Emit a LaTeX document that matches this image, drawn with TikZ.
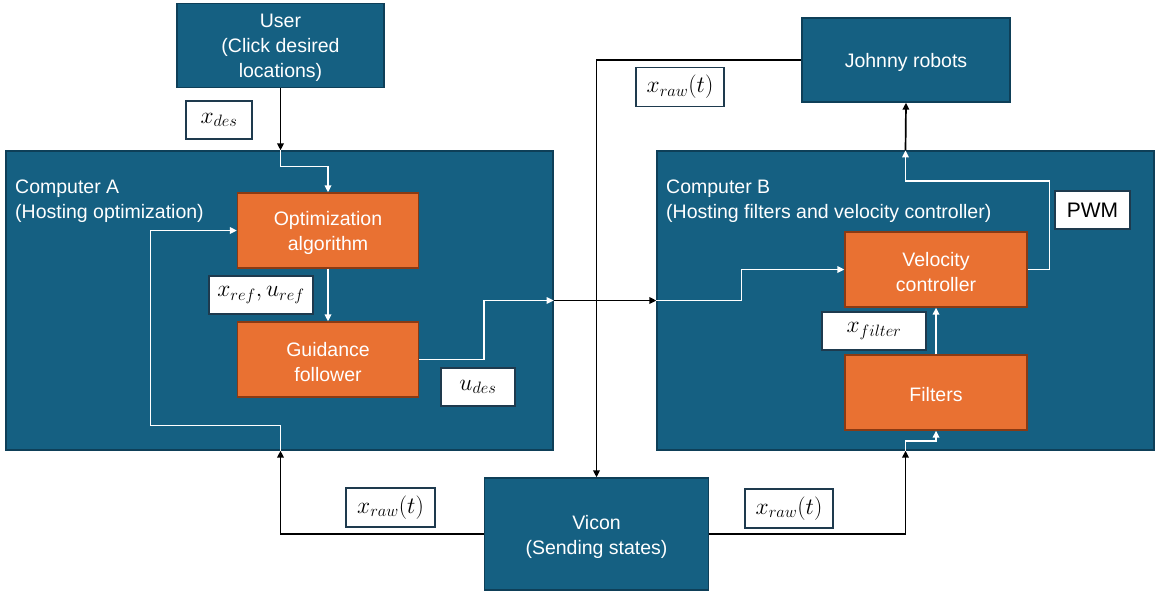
\RequirePackage{fix-cm}
\documentclass[tikz,border=0pt]{standalone}
\usepackage{fontspec}
\setmainfont{Liberation Sans}
\usetikzlibrary{arrows.meta,calc}
\definecolor{sysblue}{HTML}{156082}
\definecolor{sysblueline}{HTML}{0E3F58}
\definecolor{blockorange}{HTML}{E97132}
\definecolor{blockorangeline}{HTML}{8A3A13}
\definecolor{tagline}{HTML}{1E3A4E}
\newcommand\boxfont{\fontsize{19.5}{25}\selectfont}
\newcommand\tagfont{\fontsize{23.5}{26}\selectfont}
\tikzset{
  sysbox/.style={draw=sysblueline, line width=1.3pt, fill=sysblue, inner sep=0pt},
  blockbox/.style={draw=blockorangeline, line width=1.3pt, fill=blockorange, inner sep=0pt},
  boxtext/.style={text=white, align=center, font=\boxfont, inner sep=0pt, yshift=-2.5pt},
  tagbox/.style={draw=tagline, line width=1.2pt, fill=white, text=black,
    font=\tagfont, inner sep=0pt},
  title/.style={text=white, font=\boxfont, align=left, anchor=west, inner sep=0pt},
  blk/.style={draw=black, line width=1.7pt, -{Triangle[length=7pt,width=6.5pt]}},
  wht/.style={draw=white, line width=1.6pt, -{Triangle[length=7pt,width=6.5pt]}},
}
\begin{document}
\begin{tikzpicture}[x=1pt, y=-1pt]
\useasboundingbox (0,0) rectangle (1155,592);

% computers (drawn first, blocks on top)
\node[sysbox, minimum width=547pt, minimum height=299pt] (compA) at (279.5,300.5) {};
\node[sysbox, minimum width=497pt, minimum height=299pt] (compB) at (905.5,300.5) {};
\node[title] (ta) at (15,201) {Computer A\\(Hosting optimization)};
\node[title] (tb) at (666,201) {Computer B\\(Hosting filters and velocity controller)};

% outer units
\node[sysbox, minimum width=207pt, minimum height=84pt,
  label={[boxtext]center:{User\\(Click desired\\locations)}}] (user) at (280.5,45.5) {};
\node[sysbox, minimum width=208pt, minimum height=84pt,
  label={[boxtext]center:{Johnny robots}}] (johnny) at (906,60) {};
\node[sysbox, minimum width=224pt, minimum height=112pt,
  label={[boxtext]center:{Vicon\\(Sending states)}}] (vicon) at (596.5,534) {};

% inner blocks
\node[blockbox, minimum width=181pt, minimum height=75pt,
  label={[boxtext]center:{Optimization\\algorithm}}] (opt) at (328,230.5) {};
\node[blockbox, minimum width=181pt, minimum height=75pt,
  label={[boxtext]center:{Guidance\\follower}}] (guide) at (328,359.5) {};
\node[blockbox, minimum width=182pt, minimum height=75pt,
  label={[boxtext]center:{Velocity\\controller}}] (vel) at (936,269.5) {};
\node[blockbox, minimum width=182pt, minimum height=75pt,
  label={[boxtext]center:{Filters}}] (filt) at (936,392.5) {};

% signal tags
\node[tagbox, minimum width=66pt, minimum height=38pt] (tdes) at (219,120) {$x_{des}$};
\node[tagbox, minimum width=104pt, minimum height=38pt] (tref) at (261,295) {$x_{ref},u_{ref}$};
\node[tagbox, minimum width=74pt, minimum height=38pt] (tudes) at (478,387) {$u_{des}$};
\node[tagbox, minimum width=88pt, minimum height=39pt] (trawtop) at (680,87) {$x_{raw}(t)$};
\node[tagbox, minimum width=89pt, minimum height=39pt] (trawl) at (390.5,507.5) {$x_{raw}(t)$};
\node[tagbox, minimum width=88pt, minimum height=39pt] (trawr) at (789,508.5) {$x_{raw}(t)$};
\node[tagbox, minimum width=104pt, minimum height=38pt] (tfilt) at (874,331) {$x_{filter}$};
\node[tagbox, minimum width=75pt, minimum height=38pt, font=\fontsize{21}{24}\selectfont] (tpwm) at (1092.5,210) {PWM};

% ports on the computer borders
\coordinate (aTop) at (user.south |- compA.north);
\coordinate (aBot) at (user.south |- compA.south);

% user input into computer A
\draw[blk] (user.south) -- (aTop);
\draw[wht] (aTop) -- ++(0,16) -| (opt.north);
\draw[wht] (opt.south) -- (guide.north);
% feedback of the raw state into the optimization
\draw[wht] (aBot) -- ++(0,-25) -- ++(-130,0) |- (opt.west);
% guidance output leaving computer A
\draw[wht] (guide.east) -- ++(65,0) |- (compA.east);

% link between the computers
\draw[blk] (compA.east) -- (compB.west);

% inside computer B
\draw[wht] (compB.west) -- ++(85,0) |- (vel.west);
\draw[wht] (filt.north) -- (vel.south);
\draw[wht] (compB.south) -- ++(0,-9.5) -| (filt.south);
\draw[wht] (vel.east) -- ++(22,0) -- ++(0,-88.5) -| (compB.north);
\draw[blk] (compB.north) -- (johnny.south);

% motion capture loop
\draw[blk] (johnny.west) -| (vicon.north);
\draw[blk] (vicon.west) -| (aBot);
\draw[blk] (vicon.east) -| (compB.south);
\end{tikzpicture}
\end{document}
